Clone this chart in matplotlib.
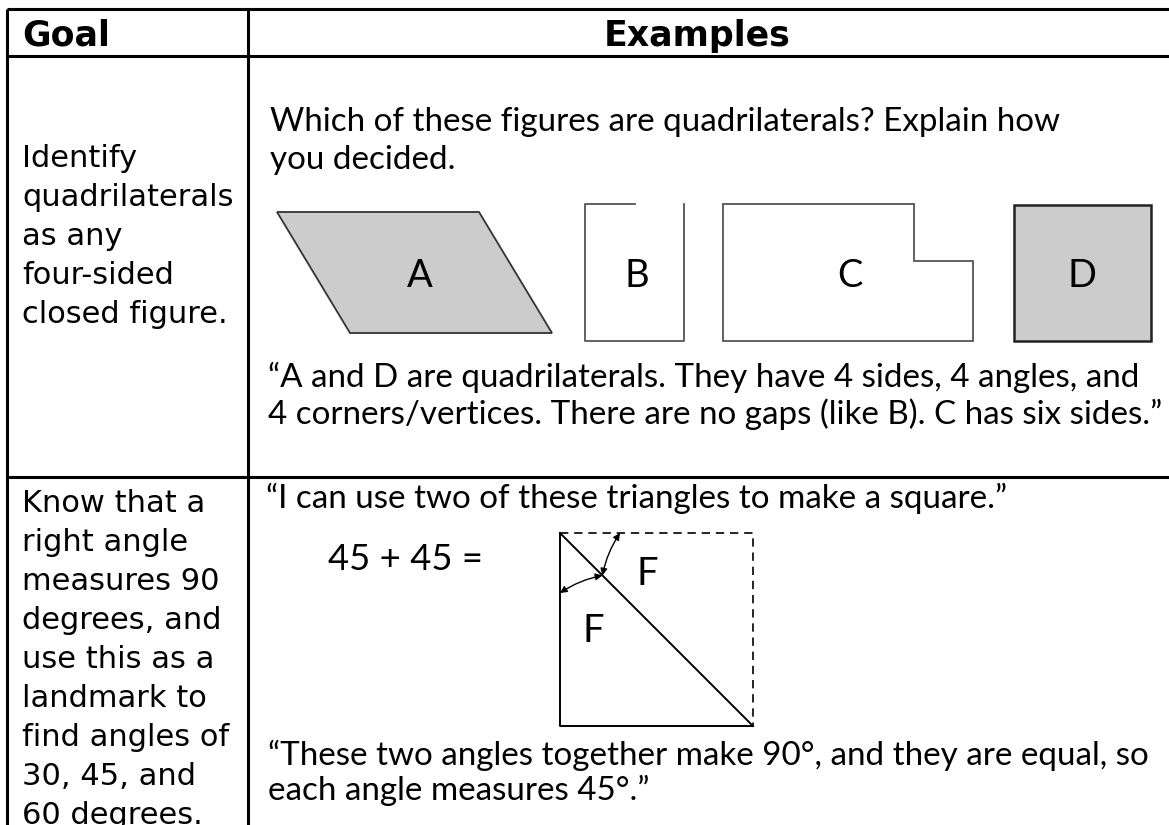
import matplotlib
matplotlib.use("Agg")
from matplotlib import pyplot as plt
from matplotlib.patches import Polygon, FancyArrowPatch

# text content of the table
header_labels = ["Goal", "Examples"]
goal_lines_1 = ["Identify", "quadrilaterals", "as any", "four-sided", "closed figure."]
goal_lines_2 = [
    "Know that a", "right angle", "measures 90", "degrees, and", "use this as a",
    "landmark to", "find angles of", "30, 45, and", "60 degrees.",
]
question_lines = ["Which of these figures are quadrilaterals? Explain how", "you decided."]
answer_lines_1 = [
    "\u201cA and D are quadrilaterals. They have 4 sides, 4 angles, and",
    "4 corners/vertices. There are no gaps (like B). C has six sides.\u201d",
]
shape_names = ["A", "B", "C", "D"]
triangle_intro = "\u201cI can use two of these triangles to make a square.\u201d"
sum_text = "45 + 45 ="
triangle_names = ["F", "F"]
answer_lines_2 = [
    "\u201cThese two angles together make 90\u00b0, and they are equal, so",
    "each angle measures 45\u00b0.\u201d",
]

W, H = 1169, 825
LEFT_FONT = "DejaVu Sans"
RIGHT_FONT = "Lato"
GREY = "#cccccc"

fig = plt.figure(figsize=(W / 100, H / 100), dpi=100)
ax = fig.add_axes([0, 0, 1, 1])
ax.set_xlim(0, W)
ax.set_ylim(H, 0)
ax.axis("off")
renderer = fig.canvas.get_renderer()


def fit_size(s, width, family, weight="normal"):
    t = ax.text(0, 0, s, fontsize=20, family=family, weight=weight)
    w = t.get_window_extent(renderer).width
    t.remove()
    return 20 * width / w


# table grid
lw_grid = 2.2
x_left, x_div, y_top, y_head, y_row = 7, 248, 9, 56, 477
for y in (y_top, y_head, y_row):
    ax.plot([x_left, W], [y, y], color="black", lw=lw_grid, solid_capstyle="butt")
for x in (x_left, x_div):
    ax.plot([x, x], [y_top, H], color="black", lw=lw_grid, solid_capstyle="butt")

# header
head_size = fit_size(header_labels[0], 88, LEFT_FONT, "bold")
ax.text(22, 46, header_labels[0], fontsize=head_size, family=LEFT_FONT,
        weight="bold", va="baseline")
ax.text(697, 46, header_labels[1], fontsize=head_size, family=LEFT_FONT,
        weight="bold", va="baseline", ha="center")

# goal column
goal_size = fit_size("quadrilaterals", 211, LEFT_FONT)
line_gap = 39
for i, line in enumerate(goal_lines_1):
    ax.text(22, 167 + i * line_gap, line, fontsize=goal_size, family=LEFT_FONT,
            va="baseline")
for i, line in enumerate(goal_lines_2):
    ax.text(22, 512 + i * line_gap, line, fontsize=goal_size, family=LEFT_FONT,
            va="baseline")

# examples column, row 1
body_size = fit_size(answer_lines_1[0], 872, RIGHT_FONT)
for i, line in enumerate(question_lines):
    ax.text(270, 131 + i * 38, line, fontsize=body_size, family=RIGHT_FONT, va="baseline")
for i, line in enumerate(answer_lines_1):
    ax.text(268, 387 + i * 37, line, fontsize=body_size, family=RIGHT_FONT, va="baseline")

ax.add_patch(Polygon([(277, 212), (479, 212), (552, 333), (350, 333)], closed=True,
                     facecolor=GREY, edgecolor="#333333", lw=1.3))
ax.plot([635, 585, 585, 684, 684], [204, 204, 341, 341, 204], color="#555555", lw=1.3)
ax.add_patch(Polygon([(723, 204), (914, 204), (914, 261), (973, 261), (973, 341), (723, 341)],
                     closed=True, facecolor="none", edgecolor="#555555", lw=1.3))
ax.add_patch(Polygon([(1014, 205), (1151, 205), (1151, 341), (1014, 341)], closed=True,
                     facecolor=GREY, edgecolor="#222222", lw=1.8))
label_size = body_size * 1.15
for name, x in zip(shape_names, [420, 637, 850, 1082]):
    ax.text(x, 287, name, fontsize=label_size, family=RIGHT_FONT, ha="center", va="baseline")

# examples column, row 2
ax.text(266, 508, triangle_intro, fontsize=body_size, family=RIGHT_FONT, va="baseline")
ax.text(328, 570, sum_text, fontsize=body_size * 1.1, family=RIGHT_FONT, va="baseline")

sq_l, sq_r, sq_t, sq_b = 560, 753, 533, 726
ax.plot([sq_l, sq_l, sq_r], [sq_t, sq_b, sq_b], color="black", lw=1.4)
ax.plot([sq_l, sq_r], [sq_t, sq_b], color="black", lw=1.4)
ax.plot([sq_l, sq_r, sq_r], [sq_t, sq_t, sq_b], color="black", lw=1.2,
        linestyle=(0, (5, 3.5)))

r = 60
arc_pts = [(sq_l + r, sq_t), (sq_l + r * 0.7071, sq_t + r * 0.7071), (sq_l, sq_t + r)]
for p0, p1 in zip(arc_pts[:-1], arc_pts[1:]):
    ax.add_patch(FancyArrowPatch(p0, p1, arrowstyle="<|-|>,head_length=4,head_width=2",
                                 connectionstyle="arc3,rad=0.1", color="black", lw=1.0,
                                 shrinkA=0, shrinkB=0))

for name, (x, y) in zip(triangle_names, [(647, 585), (593, 642)]):
    ax.text(x, y, name, fontsize=label_size, family=RIGHT_FONT, ha="center", va="baseline")

for i, line in enumerate(answer_lines_2):
    ax.text(268, 765 + i * 35, line, fontsize=body_size, family=RIGHT_FONT, va="baseline")

fig.savefig("out.png", dpi=100)
